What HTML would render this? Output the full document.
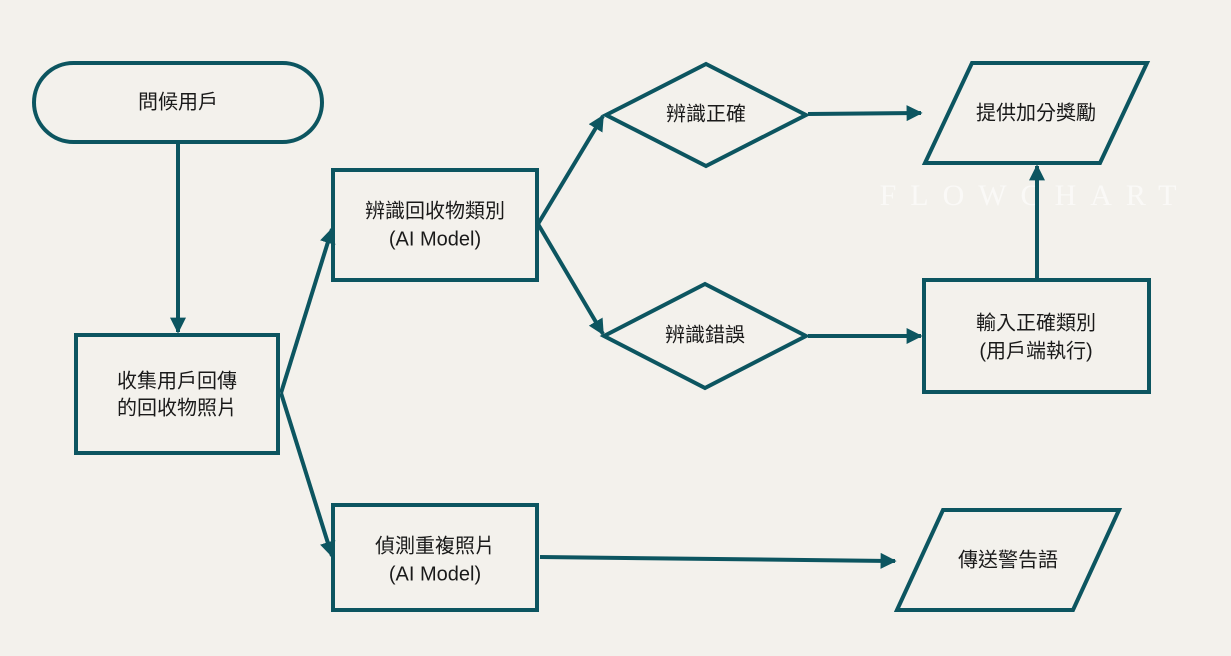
<!DOCTYPE html>
<html><head><meta charset="utf-8"><style>
html,body{margin:0;padding:0;background:#f3f1ec;}
svg{display:block}
text{font-family:"Liberation Sans","Noto Sans CJK TC",sans-serif;font-size:20px;fill:#1a1a1a;text-anchor:middle;dominant-baseline:middle}
</style></head><body>
<svg width="1231" height="656" viewBox="0 0 1231 656" xmlns="http://www.w3.org/2000/svg">
<defs>
<marker id="a" viewBox="0 0 10 10" refX="9" refY="5" markerWidth="4" markerHeight="4" orient="auto" markerUnits="strokeWidth">
<path d="M0,0 L10,5 L0,10 z" fill="#0c5560"/></marker>
</defs>
<rect width="1231" height="656" fill="#f3f1ec"/>
<text x="1035" y="198" style="font-family:'Liberation Serif',serif;font-size:30px;fill:#ffffff;opacity:0.6;letter-spacing:14px">FLOWCHART</text>
<g fill="none" stroke="#0c5560" stroke-width="4">
<rect x="34" y="63" width="288" height="79" rx="39.5"/>
<rect x="76" y="335" width="202" height="118"/>
<rect x="333" y="170" width="204" height="110"/>
<rect x="333" y="505" width="204" height="105"/>
<polygon points="606,115 706,64 806,115 706,166"/>
<polygon points="604,336 705,284 806,336 705,388"/>
<polygon points="925,163 972,63 1147,63 1100,163"/>
<rect x="924" y="280" width="225" height="112"/>
<polygon points="897,610 943,510 1119,510 1073,610"/>
<g marker-end="url(#a)">
<line x1="178" y1="142" x2="178" y2="332"/>
<line x1="281" y1="393" x2="332" y2="229"/>
<line x1="281" y1="393" x2="332" y2="556"/>
<line x1="538" y1="224" x2="603" y2="116"/>
<line x1="538" y1="224" x2="603" y2="334"/>
<line x1="808" y1="114" x2="921" y2="113"/>
<line x1="808" y1="336" x2="921" y2="336"/>
<line x1="1037" y1="278" x2="1037" y2="166"/>
<line x1="540" y1="557" x2="895" y2="561"/>
</g>
</g>
<text x="178" y="103">問候用戶</text>
<text x="177" y="382">收集用戶回傳</text>
<text x="177" y="409">的回收物照片</text>
<text x="435" y="212">辨識回收物類別</text>
<text x="435" y="240">(AI Model)</text>
<text x="435" y="547">偵測重複照片</text>
<text x="435" y="575">(AI Model)</text>
<text x="706" y="115">辨識正確</text>
<text x="705" y="336">辨識錯誤</text>
<text x="1036" y="114">提供加分獎勵</text>
<text x="1036" y="324">輸入正確類別</text>
<text x="1036" y="352">(用戶端執行)</text>
<text x="1008" y="561">傳送警告語</text>
</svg>
</body></html>
